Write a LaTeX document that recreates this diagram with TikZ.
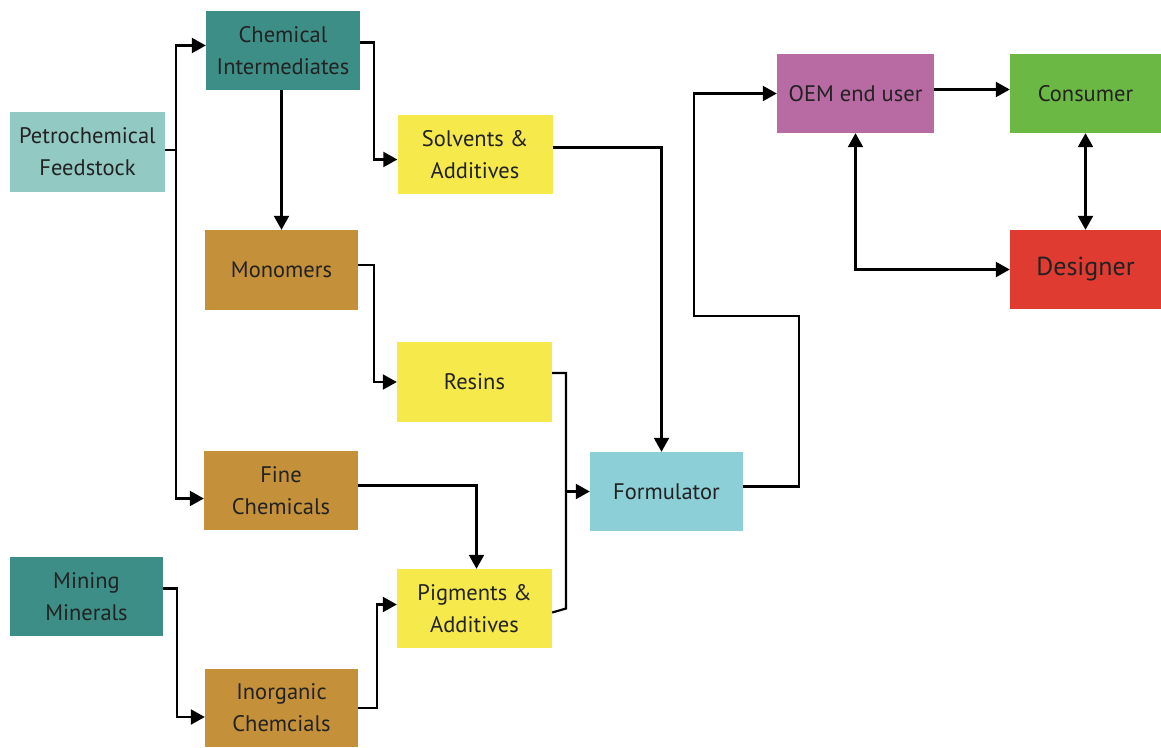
\documentclass[tikz,border=0pt]{standalone}
\usepackage{fontspec}
\setmainfont{PT Sans}
\usetikzlibrary{arrows.meta}
\definecolor{lteal}{HTML}{93C9C3}
\definecolor{dteal}{HTML}{3D8E86}
\definecolor{ylw}{HTML}{F5E94C}
\definecolor{ochre}{HTML}{C4903A}
\definecolor{cyanb}{HTML}{8CCFD6}
\definecolor{oemc}{HTML}{B86AA3}
\definecolor{consc}{HTML}{6CB844}
\definecolor{desc}{HTML}{DF3B30}
\definecolor{txt}{HTML}{222222}
\tikzset{
  box/.style={draw=none, inner sep=0pt, align=center, text=txt, font=\fontsize{22.5}{32}\selectfont},
  arr/.style={line width=2.2pt, -{Triangle[length=14pt,width=15pt]}},
  darr/.style={line width=2.2pt, {Triangle[length=14pt,width=15pt]}-{Triangle[length=14pt,width=15pt]}},
  ln/.style={line width=2.2pt},
}
\begin{document}
\begin{tikzpicture}[x=1pt,y=-1pt]
\useasboundingbox (0,0) rectangle (1161,747);
\fill[white] (0,0) rectangle (1161,747);
\node[box, fill=lteal, minimum width=155pt, minimum height=80pt] (petro) at (87.5,152) {Petrochemical\\Feedstock};
\node[box, fill=dteal, minimum width=154pt, minimum height=79pt] (chem) at (283,50.5) {Chemical\\Intermediates};
\node[box, fill=ylw, minimum width=155pt, minimum height=79pt] (solv) at (475,154.5) {Solvents \&\\Additives};
\node[box, fill=ochre, minimum width=153pt, minimum height=80pt] (mono) at (281.5,270) {Monomers};
\node[box, fill=ylw, minimum width=155pt, minimum height=80pt] (resins) at (474.5,382) {Resins};
\node[box, fill=ochre, minimum width=154pt, minimum height=79pt] (fine) at (281,490.5) {Fine\\Chemicals};
\node[box, fill=cyanb, minimum width=153pt, minimum height=79pt] (form) at (666.5,491.5) {Formulator};
\node[box, fill=dteal, minimum width=153pt, minimum height=79pt] (mining) at (86.5,596.5) {Mining\\Minerals};
\node[box, fill=ylw, minimum width=155pt, minimum height=79pt] (pig) at (474.5,608.5) {Pigments \&\\Additives};
\node[box, fill=ochre, minimum width=153pt, minimum height=78pt] (inorg) at (281.5,708) {Inorganic\\Chemcials};
\node[box, fill=oemc, minimum width=157pt, minimum height=79pt] (oem) at (855.5,93.5) {OEM end user};
\node[box, fill=consc, minimum width=151pt, minimum height=79pt] (cons) at (1085.5,93.5) {Consumer};
\node[box, fill=desc, minimum width=151pt, minimum height=79pt, font=\fontsize{26}{32}\selectfont] (des) at (1085.5,269.5) {Designer};

\coordinate (pj) at (176,150);
\coordinate (bus) at (566,0);
\coordinate (r1) at (799,316);
\coordinate (r2) at (694,316);

\draw[ln] (petro.east |- pj) -- (pj);
\draw[arr] (pj) |- ([yshift=5pt]chem.west);
\draw[arr] (pj) |- ([yshift=-8pt]fine.west);
\draw[arr] ([yshift=8pt]chem.east) -- ++(14pt,0) |- ([yshift=-5pt]solv.west);
\draw[arr] (mono.north |- chem.south) -- (mono.north);
\draw[arr] ([yshift=5pt]mono.east) -- ++(16pt,0) |- (resins.west);
\draw[arr] ([yshift=7pt]solv.east) -| ([xshift=-5pt]form.north);
\draw[ln] ([yshift=9pt]resins.east) -| (bus |- pig.east) -- ([yshift=-4pt]pig.east);
\draw[arr] (bus |- form.west) -- (form.west);
\draw[arr] ([yshift=5pt]fine.east) -| ([xshift=2pt]pig.north);
\draw[arr] ([yshift=8pt]mining.east) -- ++(14pt,0) |- ([yshift=-9pt]inorg.west);
\draw[arr] (inorg.east) -- ++(19pt,0) |- ([yshift=4pt]pig.west);
\draw[arr] ([yshift=5pt]form.east) -| (r1) -- (r2) |- (oem.west);
\draw[arr] ([yshift=4pt]oem.east) -- ([yshift=4pt]cons.west);
\draw[darr] (cons.south) -- (des.north);
\draw[darr] (oem.south) |- (des.west);
\end{tikzpicture}
\end{document}
